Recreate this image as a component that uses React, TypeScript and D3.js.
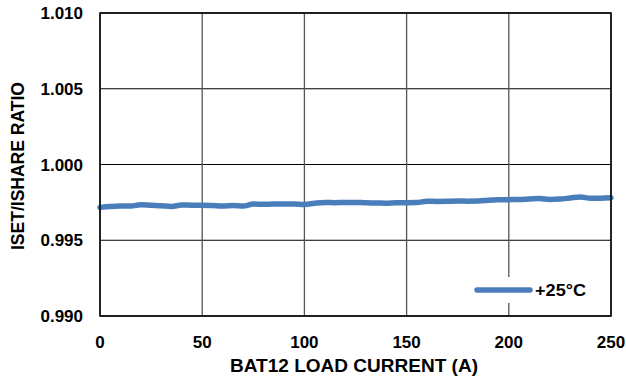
import React from "react";
import * as d3 from "d3";

const loadCurrent = [0,5,10,15,20,25,30,35,40,45,50,55,60,65,70,75,80,85,90,95,100,105,110,115,120,125,130,135,140,145,150,155,160,165,170,175,180,185,190,195,200,205,210,215,220,225,230,235,240,245,250];
const ratio25 = [0.99717,0.99723,0.99726,0.99726,0.99735,0.99731,0.99728,0.99723,0.99733,0.99731,0.99731,0.99729,0.99726,0.99729,0.99726,0.99739,0.99737,0.99739,0.99739,0.99739,0.99736,0.99744,0.99749,0.99748,0.9975,0.9975,0.99747,0.99746,0.99744,0.99748,0.99748,0.99749,0.99758,0.99756,0.99757,0.99759,0.99758,0.99759,0.99764,0.99767,0.99768,0.99769,0.99772,0.99775,0.99769,0.99772,0.99779,0.99786,0.99777,0.99777,0.9978];
const xTicks = [0, 50, 100, 150, 200, 250];
const yTicks = [0.99, 0.995, 1.0, 1.005, 1.01];
const seriesLabel = "+25°C";

export default function App() {
  const W = 626, H = 381;
  const L = 100, R = 611, T = 13, B = 316;
  const x = d3.scaleLinear().domain([0, 250]).range([L, R]);
  const y = d3.scaleLinear().domain([0.99, 1.01]).range([B, T]);
  const line = d3.line<number>().x((_, i) => x(loadCurrent[i])).y((d) => y(d)).curve(d3.curveMonotoneX);
  const font = "'Liberation Sans', Arial, sans-serif";
  return (
    <svg width={W} height={H} style={{ position: "absolute", left: 0, top: 0, background: "#fff" }} fontFamily={font}>
      <rect x={0} y={0} width={W} height={H} fill="#fff" />
      {yTicks.map((t) => (
        <line key={"h" + t} x1={L} x2={R} y1={y(t)} y2={y(t)} stroke="#000" strokeWidth={1} />
      ))}
      {xTicks.map((t) => (
        <line key={"v" + t} x1={x(t)} x2={x(t)} y1={T} y2={B} stroke="#555" strokeWidth={1.3} />
      ))}
      <rect x={470} y={277} width={125} height={26} fill="#fff" />
      <path d={line(ratio25) || ""} fill="none" stroke="#4a7ebb" strokeWidth={5.5} strokeLinecap="round" strokeLinejoin="round" />
      <rect x={L} y={T} width={R - L} height={B - T} fill="none" stroke="#000" strokeWidth={1.5} />
      {yTicks.map((t) => (
        <text key={"yl" + t} x={83} y={y(t)} dy="0.36em" textAnchor="end" fontSize={17} fontWeight="bold" fill="#000">
          {d3.format(".3f")(t)}
        </text>
      ))}
      {xTicks.map((t) => (
        <text key={"xl" + t} x={x(t)} y={342} dy="0.36em" textAnchor="middle" fontSize={17} fontWeight="bold" fill="#000">
          {t}
        </text>
      ))}
      <text x={354} y={366} dy="0.36em" textAnchor="middle" fontSize={17.5} fontWeight="bold" fill="#000" textLength={248} lengthAdjust="spacingAndGlyphs">BAT12 LOAD CURRENT (A)</text>
      <text transform="translate(18,166) rotate(-90)" dy="0.36em" textAnchor="middle" fontSize={17.5} fontWeight="bold" fill="#000" textLength={168} lengthAdjust="spacingAndGlyphs">ISET/ISHARE RATIO</text>
      <line x1={477} x2={530} y1={290} y2={290} stroke="#4a7ebb" strokeWidth={5.5} strokeLinecap="round" />
      <text x={535} y={290} dy="0.36em" fontSize={17} fontWeight="bold" fill="#000" textLength={51} lengthAdjust="spacingAndGlyphs">{seriesLabel}</text>
    </svg>
  );
}
